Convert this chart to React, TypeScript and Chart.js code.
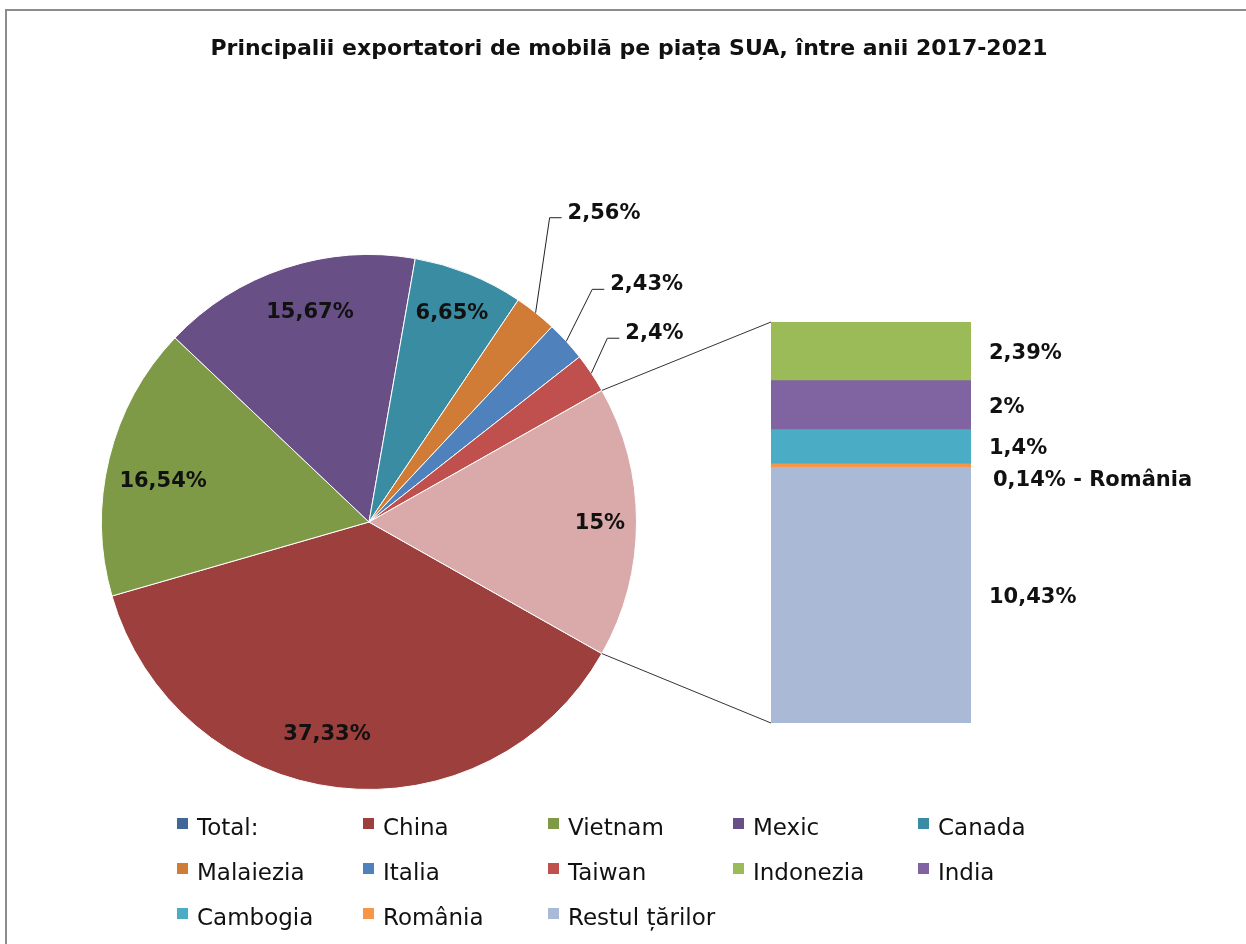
import React, { useEffect, useRef } from "react";
import { Chart, registerables } from "chart.js";

Chart.register(...registerables);

// ---------------- data ----------------
const chartTitle = "Principalii exportatori de mobilă pe piața SUA, între anii 2017-2021";
const totalLabel = "Total:";
const pieLabels = ["China", "Vietnam", "Mexic", "Canada", "Malaiezia", "Italia", "Taiwan"];
const pieValues = [37.33, 16.54, 15.67, 6.65, 2.56, 2.43, 2.4];
const otherLabel = "Alte țări";
const otherValueText = "15%";
const barLabels = ["Indonezia", "India", "Cambogia", "România", "Restul țărilor"];
const barValues = [2.39, 2, 1.4, 0.14, 10.43];
const romaniaSuffix = " - România";

// ---------------- styles ----------------
const totalColor = "#3F6797";
const pieColors = ["#9D3F3C", "#7E9A47", "#684F86", "#3A8CA3", "#D07C36", "#4F81BD", "#C0504D"];
const otherColor = "#D9AAA9";
const barColors = ["#9BBB59", "#8064A2", "#4BACC6", "#F79646", "#AAB9D6"];
const FONT = '"DejaVu Sans", "Liberation Sans", sans-serif';
const TEXT = "#111";

const W = 1246;
const H = 944;

function fmt(v: number): string {
  return String(v).replace(".", ",") + "%";
}

const otherSum = barValues.reduce((a, b) => a + b, 0);
const grandTotal = pieValues.reduce((a, b) => a + b, 0) + otherSum;

// inside-label nudges (px) per pie slice index
const insideNudge: Record<number, [number, number]> = {
  0: [-17, 0],
  1: [2, 10],
  2: [8, -6],
  3: [3, -10],
  7: [17, 2],
};
// outside labels: elbow offset from arc edge point
const outsideElbow: Record<number, [number, number]> = {
  4: [14, -95],
  5: [26, -52],
  6: [16, -35],
};

// legend layout
const legendCols = [177, 363, 548, 733, 918];
const legendRowsTop = [818, 863, 908];

export default function App() {
  const pieRef = useRef<HTMLCanvasElement | null>(null);
  const barRef = useRef<HTMLCanvasElement | null>(null);

  useEffect(() => {
    if (!pieRef.current || !barRef.current) return;

    const allPieLabels = [...pieLabels, otherLabel];
    const allPieValues = [...pieValues, otherSum];
    const allPieColors = [...pieColors, otherColor];

    const pieDecor = {
      id: "pieDecor",
      beforeDraw(chart: any) {
        const ctx = chart.ctx;
        ctx.save();
        ctx.fillStyle = "#fff";
        ctx.fillRect(0, 0, W, H);
        ctx.strokeStyle = "#8c8c8c";
        ctx.lineWidth = 2;
        ctx.beginPath();
        ctx.moveTo(6, H);
        ctx.lineTo(6, 10);
        ctx.lineTo(W, 10);
        ctx.stroke();
        ctx.restore();
      },
      afterDraw(chart: any) {
        const ctx = chart.ctx;
        ctx.save();
        // title
        ctx.fillStyle = TEXT;
        ctx.font = `bold 22px ${FONT}`;
        ctx.textAlign = "center";
        ctx.textBaseline = "alphabetic";
        ctx.fillText(chartTitle, 629, 55);

        // pie labels
        const meta = chart.getDatasetMeta(0);
        ctx.font = `bold 21px ${FONT}`;
        meta.data.forEach((arc: any, i: number) => {
          const p = arc.getProps(["x", "y", "startAngle", "endAngle", "outerRadius"], true);
          const mid = (p.startAngle + p.endAngle) / 2;
          const text = i === 7 ? otherValueText : fmt(allPieValues[i]);
          if (insideNudge[i]) {
            const r = p.outerRadius * 0.8;
            const lx = p.x + Math.cos(mid) * r + insideNudge[i][0];
            const ly = p.y + Math.sin(mid) * r + insideNudge[i][1];
            ctx.textAlign = "center";
            ctx.textBaseline = "middle";
            ctx.fillStyle = TEXT;
            ctx.fillText(text, lx, ly);
          } else if (outsideElbow[i]) {
            const ex = p.x + Math.cos(mid) * p.outerRadius;
            const ey = p.y + Math.sin(mid) * p.outerRadius;
            const bx = ex + outsideElbow[i][0];
            const by = ey + outsideElbow[i][1];
            ctx.strokeStyle = "#222";
            ctx.lineWidth = 1;
            ctx.beginPath();
            ctx.moveTo(ex, ey);
            ctx.lineTo(bx, by);
            ctx.lineTo(bx + 12, by);
            ctx.stroke();
            ctx.textAlign = "left";
            ctx.textBaseline = "alphabetic";
            ctx.fillStyle = TEXT;
            ctx.fillText(text, bx + 18, by + 1);
          }
        });

        // legend
        const legendItems = [totalLabel, ...pieLabels, ...barLabels];
        const legendColors = [totalColor, ...pieColors, ...barColors];
        ctx.font = `23px ${FONT}`;
        ctx.textAlign = "left";
        ctx.textBaseline = "alphabetic";
        legendItems.forEach((lab, i) => {
          const col = i % 5;
          const row = Math.floor(i / 5);
          const x = legendCols[col];
          const y = legendRowsTop[row];
          ctx.fillStyle = legendColors[i];
          ctx.fillRect(x, y, 11, 11);
          ctx.fillStyle = TEXT;
          ctx.fillText(lab, x + 20, y + 17);
        });
        ctx.restore();
      },
    };

    const pie = new Chart(pieRef.current, {
      type: "pie",
      data: {
        labels: allPieLabels,
        datasets: [
          {
            data: allPieValues,
            backgroundColor: allPieColors,
            borderColor: "#ffffff",
            borderWidth: 1,
          },
        ],
      },
      options: {
        responsive: false,
        animation: false,
        events: [],
        rotation: 90 + (otherSum / grandTotal) * 180,
        layout: { padding: { left: 101, right: W - 637, top: 254, bottom: H - 790 } },
        plugins: {
          legend: { display: false },
          tooltip: { enabled: false },
          title: { display: false },
        },
      },
      plugins: [pieDecor],
    } as any);

    const order = barValues.map((_, i) => barValues.length - 1 - i);

    const barDecor = {
      id: "barDecor",
      afterDraw(chart: any) {
        const ctx = chart.ctx;
        ctx.save();
        ctx.font = `bold 21px ${FONT}`;
        ctx.fillStyle = TEXT;
        ctx.textAlign = "left";
        ctx.textBaseline = "middle";
        let left = 0, top = Infinity, bottom = -Infinity, right = 0;
        order.forEach((idx, dsIndex) => {
          const el = chart.getDatasetMeta(dsIndex).data[0];
          const p = el.getProps(["x", "y", "base", "width"], true);
          left = p.x - p.width / 2;
          right = p.x + p.width / 2;
          top = Math.min(top, p.y, p.base);
          bottom = Math.max(bottom, p.y, p.base);
          const cy = (p.y + p.base) / 2;
          const label = barLabels[idx];
          if (label === "România") {
            ctx.fillText(fmt(barValues[idx]) + romaniaSuffix, right + 22, cy + 15);
          } else {
            ctx.fillText(fmt(barValues[idx]), right + 18, cy + 2);
          }
        });
        const arc = pie.getDatasetMeta(0).data[pieValues.length] as any;
        if (arc) {
          const a = arc.getProps(["x", "y", "startAngle", "endAngle", "outerRadius"], true);
          const sx = a.x + Math.cos(a.startAngle) * a.outerRadius;
          const sy = a.y + Math.sin(a.startAngle) * a.outerRadius;
          const tx = a.x + Math.cos(a.endAngle) * a.outerRadius;
          const ty = a.y + Math.sin(a.endAngle) * a.outerRadius;
          ctx.strokeStyle = "#333";
          ctx.lineWidth = 1;
          ctx.beginPath();
          ctx.moveTo(sx, sy);
          ctx.lineTo(left, top);
          ctx.moveTo(tx, ty);
          ctx.lineTo(left, bottom);
          ctx.stroke();
        }
        ctx.restore();
      },
    };

    const bar = new Chart(barRef.current, {
      type: "bar",
      data: {
        labels: [""],
        datasets: order.map((idx) => ({
          label: barLabels[idx],
          data: [barValues[idx]],
          backgroundColor: barColors[idx],
          borderWidth: 0,
          barPercentage: 1,
          categoryPercentage: 1,
        })),
      },
      options: {
        responsive: false,
        animation: false,
        events: [],
        layout: { padding: { left: 771, right: W - 971, top: 322, bottom: H - 723 } },
        scales: {
          x: { display: false, stacked: true },
          y: { display: false, stacked: true, min: 0, max: otherSum },
        },
        plugins: {
          legend: { display: false },
          tooltip: { enabled: false },
          title: { display: false },
        },
      },
      plugins: [barDecor],
    } as any);

    return () => {
      bar.destroy();
      pie.destroy();
    };
  }, []);

  return (
    <div style={{ position: "absolute", left: 0, top: 0, width: W, height: H, background: "#fff", overflow: "hidden" }}>
      <canvas ref={pieRef} width={W} height={H} style={{ position: "absolute", left: 0, top: 0 }} />
      <canvas ref={barRef} width={W} height={H} style={{ position: "absolute", left: 0, top: 0 }} />
    </div>
  );
}
